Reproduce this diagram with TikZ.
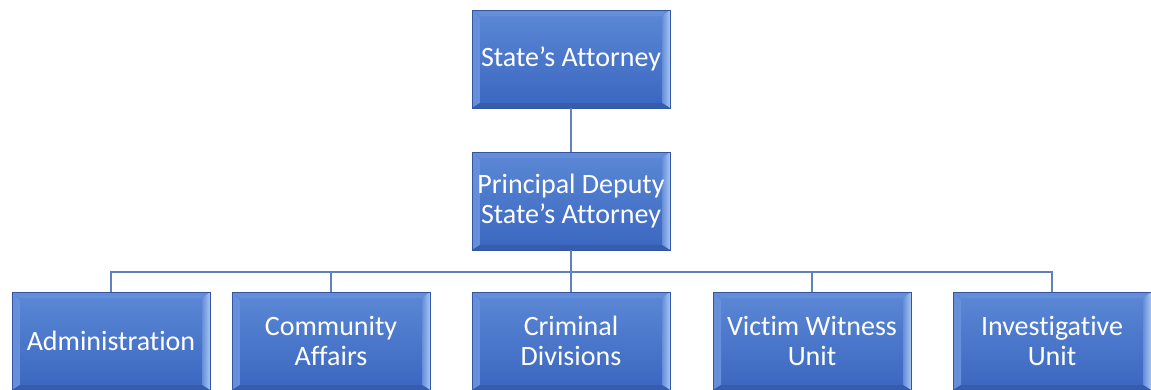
\documentclass[tikz,border=0pt]{standalone}
\usepackage{fontspec}
\setmainfont[Ligatures=NoCommon]{Carlito}
\usetikzlibrary{calc}
\definecolor{boxtop}{RGB}{92,136,214}
\definecolor{boxbot}{RGB}{58,102,192}
\definecolor{boxedge}{RGB}{52,86,160}
\definecolor{bevlight}{RGB}{170,198,240}
\definecolor{bevmid}{RGB}{100,142,218}
\definecolor{bevdark}{RGB}{55,92,172}
\definecolor{linkcol}{RGB}{96,128,190}
\tikzset{
  orgbox/.style={
    minimum width=198pt, minimum height=98pt, inner sep=0pt,
    top color=boxtop, bottom color=boxbot, draw=boxedge, line width=0.6pt,
    text=white, align=center,
    font=\fontsize{28}{30}\selectfont,
    path picture={
      \path[left color=bevmid, right color=bevlight]
        (path picture bounding box.north west)
        -- ([shift={(8pt,-8pt)}]path picture bounding box.north west)
        -- ([shift={(8pt,5pt)}]path picture bounding box.south west)
        -- (path picture bounding box.south west) -- cycle;
      \path[fill=bevmid]
        (path picture bounding box.north west)
        -- (path picture bounding box.north east)
        -- ([shift={(-8pt,-6pt)}]path picture bounding box.north east)
        -- ([shift={(8pt,-6pt)}]path picture bounding box.north west) -- cycle;
      \path[left color=bevmid, right color=bevlight]
        (path picture bounding box.north east)
        -- ([shift={(-8pt,-6pt)}]path picture bounding box.north east)
        -- ([shift={(-8pt,5pt)}]path picture bounding box.south east)
        -- (path picture bounding box.south east) -- cycle;
      \path[fill=bevdark]
        (path picture bounding box.south west)
        -- ([shift={(8pt,5pt)}]path picture bounding box.south west)
        -- ([shift={(-8pt,5pt)}]path picture bounding box.south east)
        -- (path picture bounding box.south east) -- cycle;
    }},
  link/.style={draw=linkcol, line width=1.3pt}
}
\begin{document}
\begin{tikzpicture}[x=1pt,y=-1pt]
\useasboundingbox (0,0) rectangle (1151,389);
\node[orgbox] (sa) at (571,59) {State’s Attorney};
\node[orgbox] (pd) at (571,201) {Principal Deputy\\State’s Attorney};
\node[orgbox] (ad) at (111,341) {Administration};
\node[orgbox] (ca) at (331,341) {Community\\Affairs};
\node[orgbox] (cd) at (571,341) {Criminal\\Divisions};
\node[orgbox] (vw) at (812,341) {Victim Witness\\Unit};
\node[orgbox] (iu) at (1052,341) {Investigative\\Unit};
\coordinate (bus) at (571,272);
\draw[link] (sa.south) -- (pd.north);
\draw[link] (pd.south) -- (cd.north);
\draw[link] (ad.north) |- (bus) -| (iu.north);
\draw[link] (ca.north) -- (ca.north |- bus);
\draw[link] (vw.north) -- (vw.north |- bus);
\end{tikzpicture}
\end{document}
